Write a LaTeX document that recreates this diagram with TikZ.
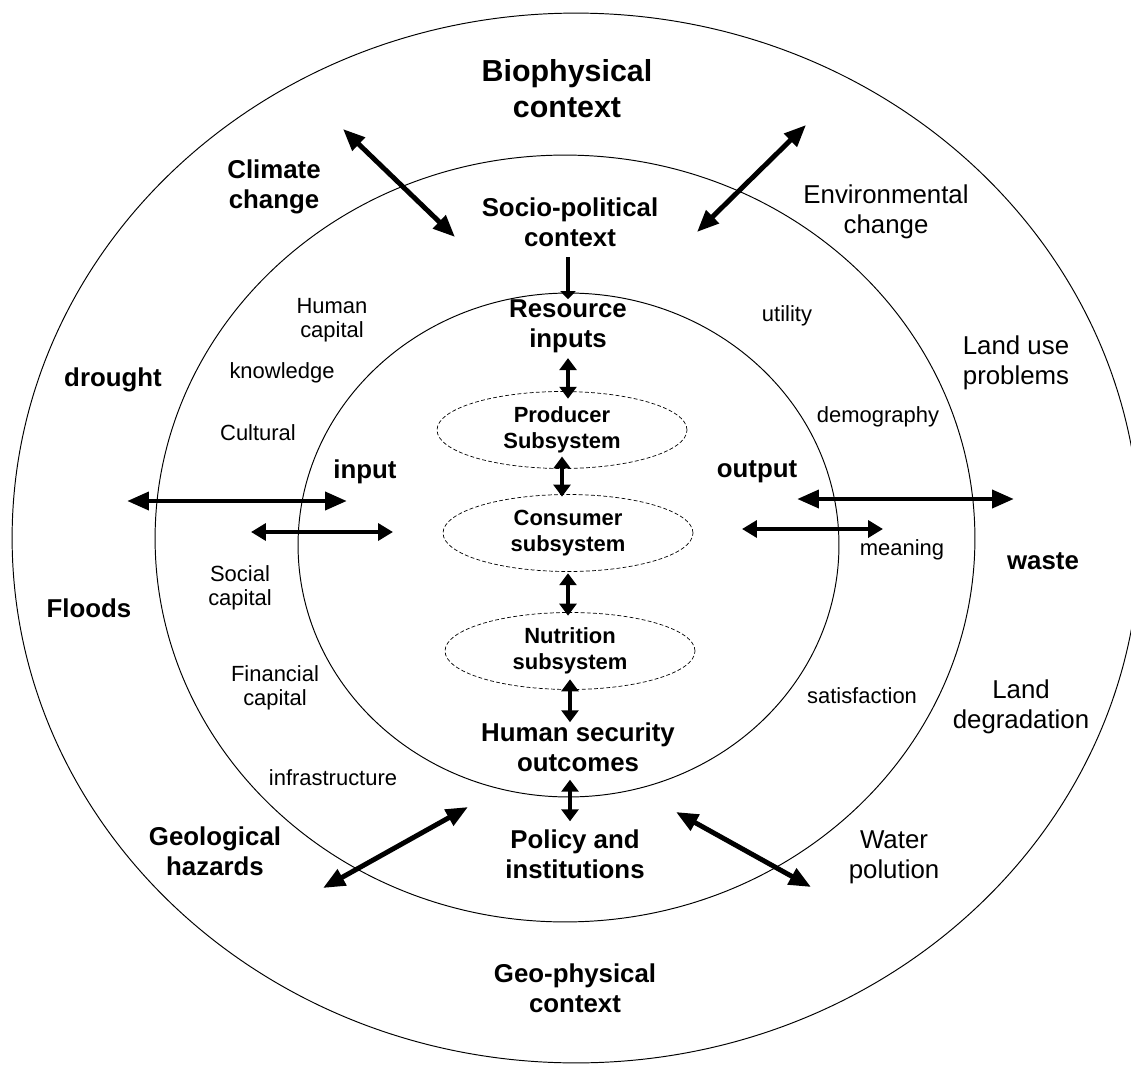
\documentclass[tikz,border=0pt]{standalone}
\usepackage{fontspec}
\setmainfont{Liberation Sans}
\usetikzlibrary{arrows.meta,shapes.geometric}

\tikzset{
    ring/.style={line width=0.55pt},
    subsys/.style={draw, ellipse, dash pattern=on 2.2pt off 1.3pt, line width=0.4pt,
        minimum width=5cm, minimum height=1.54cm, inner sep=0pt, align=center,
        font=\bfseries\fontsize{12.5}{14.7}\selectfont},
    ctxlbl/.style={align=center, inner sep=0pt, font=\bfseries\fontsize{17.3}{20.4}\selectfont},
    boldlbl/.style={align=center, inner sep=0pt, font=\bfseries\fontsize{14.7}{17}\selectfont},
    reglbl/.style={align=center, inner sep=0pt, font=\fontsize{14.7}{17}\selectfont},
    smalllbl/.style={align=center, inner sep=0pt, font=\fontsize{12.5}{13.6}\selectfont},
    arrbig/.style={line width=2.8pt, {Triangle[length=12.5pt,width=10pt]}-{Triangle[length=12.5pt,width=10pt]}},
    arrmid/.style={line width=2.3pt, {Triangle[length=8.5pt,width=9.6pt]}-{Triangle[length=8.5pt,width=9.6pt]}},
    arrvert/.style={line width=2.3pt, {Triangle[length=6.8pt,width=9.6pt]}-{Triangle[length=6.8pt,width=9.6pt]}},
    arrdown/.style={line width=2.8pt, -{Triangle[length=4.5pt,width=8.5pt]}}
}

\begin{document}
\begin{tikzpicture}[x=0.02cm, y=-0.02cm]
    \useasboundingbox (0,0) rectangle (1131,1064);

    % Draw the three context rings
    \foreach \cx/\cy/\rx/\ry in {576/538/11.28/10.5, 565/538.5/8.2/7.67, 568.5/545/5.41/5.04} {
        \draw[ring] (\cx,\cy) ellipse [x radius=\rx cm, y radius=\ry cm];
    }

    % Context titles
    \node[ctxlbl] (bio) at (567,89) {Biophysical\\context};
    \node[boldlbl] (socio) at (570,222) {Socio-political\\context};
    \node[boldlbl] (geo) at (575,988) {Geo-physical\\context};

    % Outer ring labels
    \node[boldlbl] (clim) at (274,187) {Climate\\change};
    \node[reglbl] (env) at (886,212) {Environmental\\change};
    \node[boldlbl] (drought) at (113,380) {drought};
    \node[reglbl] (landuse) at (1016,363) {Land use\\problems};
    \node[boldlbl] (waste) at (1043,561) {waste};
    \node[boldlbl] (floods) at (89,608) {Floods};
    \node[reglbl] (landdeg) at (1021,707) {Land\\degradation};
    \node[boldlbl] (geol) at (215,851) {Geological\\hazards};
    \node[reglbl] (water) at (894,857) {Water\\polution};

    % Middle ring labels
    \node[smalllbl] (humcap) at (332,320) {Human\\capital};
    \node[smalllbl] (know) at (282,373) {knowledge};
    \node[smalllbl] (cult) at (258,433) {Cultural};
    \node[smalllbl] (social) at (240,588) {Social\\capital};
    \node[smalllbl] (fin) at (275,688) {Financial\\capital};
    \node[smalllbl] (infra) at (333,778) {infrastructure};
    \node[smalllbl] (util) at (787,316) {utility};
    \node[smalllbl] (demo) at (878,417) {demography};
    \node[smalllbl] (meaning) at (902,550) {meaning};
    \node[smalllbl] (satis) at (862,696) {satisfaction};
    \node[boldlbl] (pol) at (575,854) {Policy and\\institutions};

    % Inner ring
    \node[boldlbl] (res) at (568,326) {Resource\\inputs};
    \node[boldlbl] (input) at (365,472) {input};
    \node[boldlbl] (output) at (757,472) {output};
    \node[boldlbl] (hum) at (578,747) {Human security\\outcomes};
    \node[subsys] (prod) at (562,430) {Producer\\Subsystem};
    \node[subsys] (cons) at (568,533) {Consumer\\subsystem};
    \node[subsys] (nut) at (570,651) {Nutrition\\subsystem};

    % Vertical chain
    \draw[arrdown, shorten <=6pt] (res.north |- socio.south) -- (res.north);
    \draw[arrvert, shorten <=3pt, shorten >=-4.3pt] (res.south) -- (res.south |- prod.north);
    \draw[arrvert, shorten <=-7pt, shorten >=-1.4pt] (prod.south) -- (prod.south |- cons.north);
    \draw[arrvert, shorten <=0.8pt, shorten >=-2pt] (cons.south) -- (cons.south |- nut.north);
    \draw[arrvert, shorten <=-6pt] (nut.south) -- (nut.south |- hum.north);
    \draw[arrvert, shorten <=4.5pt, shorten >=4.5pt] (nut.south |- hum.south) -- (nut.south |- pol.north);

    % Free ends of the exchange arrows
    \coordinate (climA) at (343,129);
    \coordinate (climB) at (455,237);
    \coordinate (envA) at (806,125);
    \coordinate (envB) at (697,232);
    \coordinate (geolA) at (323,888);
    \coordinate (geolB) at (468,807);
    \coordinate (watA) at (811,887);
    \coordinate (watB) at (676,812);
    \coordinate (inA) at (127,501);
    \coordinate (inB) at (347,501);
    \coordinate (outA) at (797,499);
    \coordinate (outB) at (1014,499);
    \coordinate (inC) at (251,532);
    \coordinate (inD) at (393,532);
    \coordinate (outC) at (742,529);
    \coordinate (outD) at (883,529);

    % Exchange arrows
    \foreach \a/\b in {climA/climB, envA/envB, geolA/geolB, watA/watB, inA/inB, outA/outB} {
        \draw[arrbig] (\a) -- (\b);
    }
    \foreach \a/\b in {inC/inD, outC/outD} {
        \draw[arrmid] (\a) -- (\b);
    }

\end{tikzpicture}
\end{document}
